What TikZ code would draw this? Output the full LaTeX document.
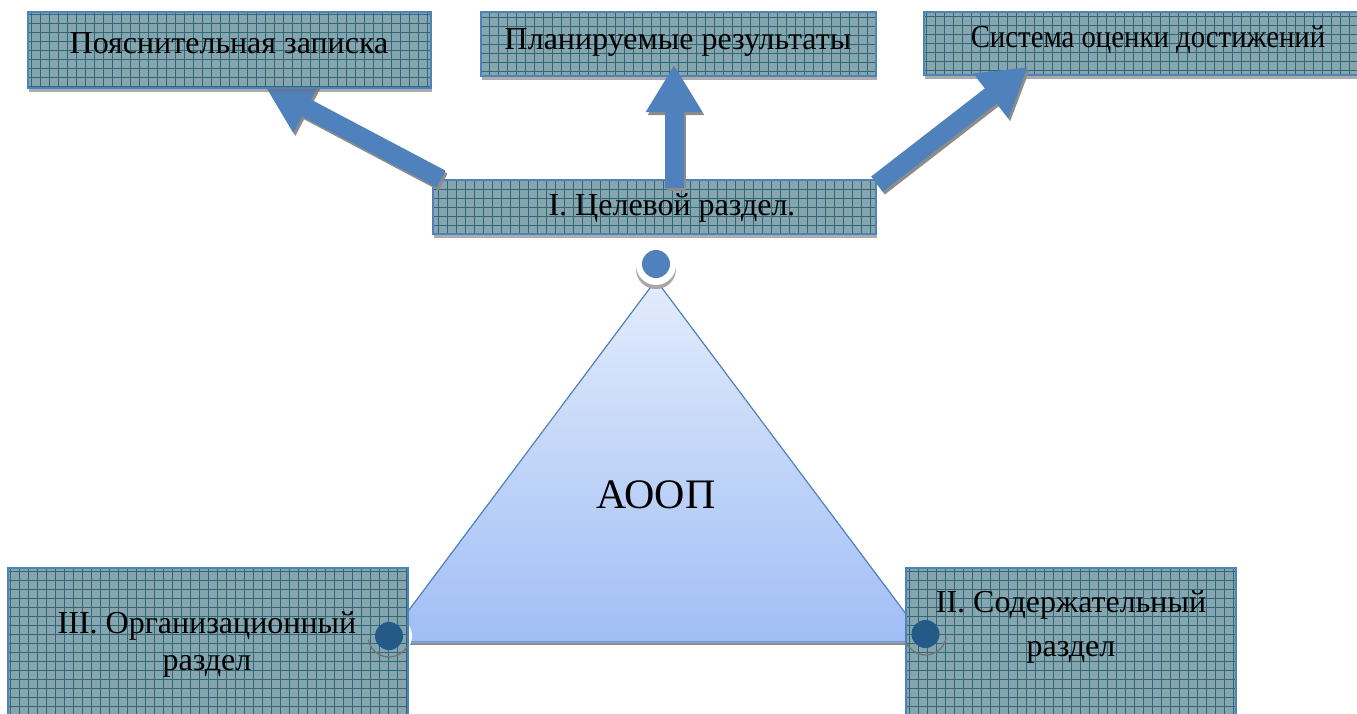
\documentclass[tikz,border=0pt]{standalone}
\usepackage{fontspec}
\setmainfont{Liberation Serif}
\newfontfamily\rufont{Liberation Serif}
\usetikzlibrary{arrows.meta,shadows}
\definecolor{bord}{HTML}{4F81BD}
\definecolor{boxfill}{RGB}{135,165,175}
\definecolor{gridc}{RGB}{45,105,120}
\definecolor{tritop}{HTML}{E3ECFC}
\definecolor{tribot}{HTML}{A0BEF5}
\definecolor{dotdark}{RGB}{35,90,135}
\begin{document}
\begin{tikzpicture}[x=1pt,y=-1pt,
  pbox/.style={draw=bord, line width=1.2pt, fill=boxfill, inner sep=0pt,
    drop shadow={shadow xshift=1pt,shadow yshift=-4pt,fill=black!55,opacity=0.6},
    path picture={\draw[gridc, line width=0.45pt, step=9pt]
      (path picture bounding box.south west) grid (path picture bounding box.north east);}},
  lbl/.style={font=\rufont\fontsize{32}{37}\selectfont, align=center, inner sep=0pt},
  barrow/.style={bord, line width=19pt, -{Triangle[length=47pt,width=53pt]}},
  bshadow/.style={black!45, line width=19pt, -{Triangle[length=47pt,width=53pt]},
    transform canvas={shift={(2pt,-3pt)}}},
  wdisk/.style={fill=white},
  wshadow/.style={fill=black!35},
  ringshadow/.style={draw=black!55, line width=1.3pt},
  bluedot/.style={fill=bord},
  darkdot/.style={fill=dotdark},
]
\useasboundingbox (0,0) rectangle (1357,713);

% triangle
\coordinate (tA) at (656,280);
\coordinate (tL) at (385,642);
\coordinate (tR) at (927,642);
\draw[black!45, line width=2.5pt] ([yshift=-2pt]tL) -- ([yshift=-2pt]tR);
\shade[top color=tritop, bottom color=tribot, draw=bord, line width=1.2pt]
  (tA) -- (tL) -- (tR) -- cycle;
\node[font=\rufont\fontsize{42}{48}\selectfont, inner sep=0pt] (aoop) at (656,495) {АООП};

% white rings behind the dots
\fill[wshadow] (656,269) circle (20);
\fill[wdisk] (656,265) circle (20);
\fill[wshadow] (389,640) circle (20);
\fill[wdisk] (392,636) circle (20);
\fill[wshadow] (925,638) circle (20);
\fill[wdisk] (928,634) circle (20);

% central box
\node[pbox, minimum width=443pt, minimum height=54pt] (bI) at (654.5,207) {};

% left arrow (under box 1)
\coordinate (a1s) at (441,179);
\coordinate (a1e) at (265,86);
\draw[bshadow] (a1s) -- (a1e);
\draw[barrow] (a1s) -- (a1e);

% top boxes
\node[pbox, minimum width=403pt, minimum height=76pt] (b1) at (229.5,50) {};
\node[pbox, minimum width=395pt, minimum height=64pt] (b2) at (678.5,44) {};
\node[pbox, minimum width=436pt, minimum height=63pt] (b3) at (1142,43.5) {};

% middle and right arrows
\coordinate (a2s) at (674,188);
\coordinate (a2e) at (674,65);
\draw[bshadow] (a2s) -- (a2e);
\draw[barrow] (a2s) -- (a2e);
\coordinate (a3s) at (877,184);
\coordinate (a3e) at (1028,67);
\draw[bshadow] (a3s) -- (a3e);
\draw[barrow] (a3s) -- (a3e);

% bottom boxes
\node[pbox, minimum width=400pt, minimum height=150pt] (bIII) at (208,643) {};
\node[pbox, minimum width=330pt, minimum height=150pt] (bII) at (1071,643) {};

% ring shadows over the bottom boxes
\draw[ringshadow] (389,636) ++(30:21) arc (30:170:21);
\draw[ringshadow] (925.5,634) ++(10:21) arc (10:160:21);

% dots
\fill[bluedot] (656,264) circle (14);
\fill[darkdot] (389,636) circle (14);
\fill[darkdot] (925.5,634) circle (14);

% texts
\node[lbl] (t1) at (229,43) {Пояснительная записка};
\node[lbl] (t2) at (678,42) {Планируемые результаты};
\node[lbl] (t3) at (1148,40) {\scalebox{0.9}[1]{Система оценки достижений}};
\node[lbl] (tI) at (672,208) {I. Целевой раздел.};
\node[lbl] (tIII) at (207,644) {III. Организационный\\раздел};
\node[lbl] (tII) at (1071,627) {II. Содержательный\\[7pt]раздел};
\end{tikzpicture}
\end{document}
